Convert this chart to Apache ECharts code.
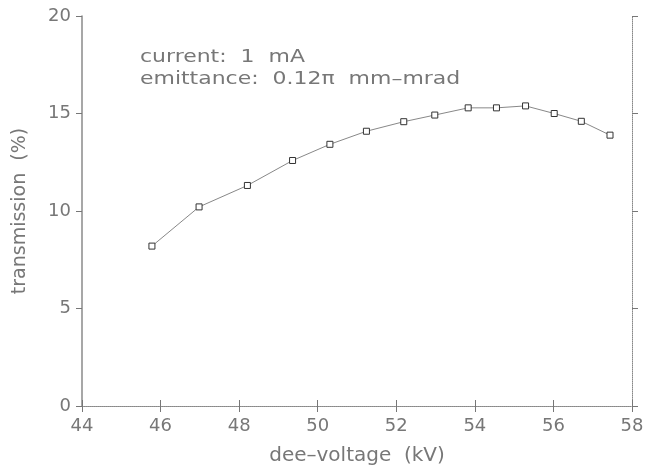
<!DOCTYPE html>
<html>
<head>
<meta charset="utf-8">
<script src="https://cdn.jsdelivr.net/npm/echarts@6/dist/echarts.min.js"></script>
<style>
  html, body { margin: 0; padding: 0; background: #fff; }
  #chart { width: 655px; height: 471px; }
</style>
</head>
<body>
<div id="chart"></div>
<script>
// dee-voltage (kV) vs transmission (%)
const deeVoltage = [45.78, 46.98, 48.21, 49.36, 50.31, 51.24, 52.19, 52.98, 53.83, 54.55, 55.29, 56.02, 56.71, 57.44];
const transmission = [8.2, 10.21, 11.31, 12.59, 13.42, 14.09, 14.58, 14.92, 15.29, 15.29, 15.39, 15.0, 14.6, 13.89];
const noteLines = ['current:  1  mA', 'emittance:  0.12\u03c0  mm\u2013mrad'];

const txtColor = '#777';
const font = 'DejaVu Sans';

var chart = echarts.init(document.getElementById('chart'), null, { renderer: 'canvas' });

// 画框的四条边，左边实线，其它虚点线
function frameAxis(extra) {
  return Object.assign({
    type: 'value',
    axisLine: { show: true, lineStyle: { color: '#888', width: 1, type: 'dotted' } },
    axisTick: { show: true, length: 6, lineStyle: { color: '#777', width: 1 } },
    splitLine: { show: false },
    axisLabel: { show: false }
  }, extra);
}

var option = {
  animation: false,
  backgroundColor: '#fff',
  grid: { left: 82, right: 23, top: 16, bottom: 60, containLabel: false },
  xAxis: [
    frameAxis({
      position: 'bottom', min: 44, max: 58, interval: 2,
      axisLabel: { show: true, color: txtColor, fontFamily: font, fontSize: 18, margin: 11 },
      name: 'dee\u2013voltage  (kV)', nameLocation: 'middle', nameGap: 40,
      nameTextStyle: { color: txtColor, fontFamily: font, fontSize: 20 }
    }),
    frameAxis({ position: 'top', min: 44, max: 58, interval: 2 })
  ],
  yAxis: [
    frameAxis({
      position: 'left', min: 0, max: 20, interval: 5,
      axisLine: { show: true, lineStyle: { color: '#8a8a8a', width: 1.5 } },
      axisLabel: { show: true, color: txtColor, fontFamily: font, fontSize: 18, margin: 11 },
      name: 'transmission  (%)', nameLocation: 'middle', nameGap: 52,
      nameTextStyle: { color: txtColor, fontFamily: font, fontSize: 19 }
    }),
    frameAxis({ position: 'right', min: 0, max: 20, interval: 5 })
  ],
  graphic: [{
    type: 'text', x: 140, y: 46, scaleX: 1.22,
    style: {
      text: noteLines.join('\n'), fill: txtColor, font: '18px "DejaVu Sans"', lineHeight: 22
    }
  }],
  series: [{
    type: 'line',
    data: deeVoltage.map((v, i) => [v, transmission[i]]),
    symbol: 'rect', symbolSize: 6,
    itemStyle: { color: '#fff', borderColor: '#333', borderWidth: 1 },
    lineStyle: { color: '#888', width: 1 }
  }]
};
chart.setOption(option);
</script>
</body>
</html>
